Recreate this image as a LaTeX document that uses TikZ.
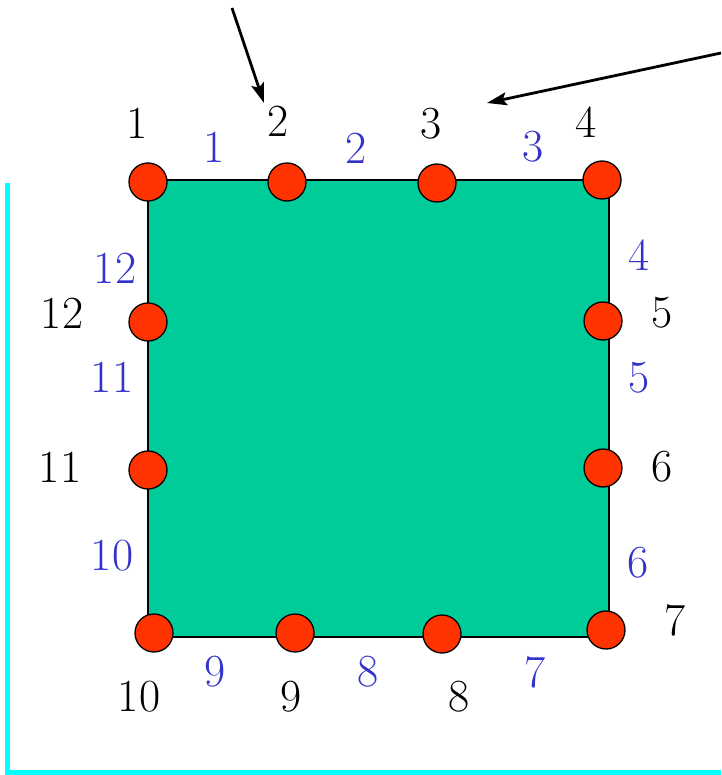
\documentclass[tikz,border=0pt]{standalone}
\usepackage{fontspec}
\usetikzlibrary{arrows.meta}
\definecolor{facegreen}{RGB}{0,204,153}
\definecolor{vtxred}{RGB}{255,51,0}
\definecolor{edgeblue}{RGB}{51,51,204}
\definecolor{frame}{RGB}{0,255,255}
\begin{document}
\begin{tikzpicture}[x=1pt,y=-1pt,
  vtx/.style={circle,draw=black,line width=1.3pt,fill=vtxred,minimum size=38pt,inner sep=0pt},
  num/.style={inner sep=0pt,font=\fontsize{46}{50}\selectfont},
  edgenum/.style={num,text=edgeblue},
  arr/.style={-{Stealth[length=20pt,width=13pt,inset=4pt]},line width=2.8pt}]
\useasboundingbox (0,0) rectangle (721,775);
% frame
\draw[frame,line width=5pt] (7.5,183) -- (7.5,772.5) -- (721,772.5);
% the face
\node[draw=black,line width=1.3pt,fill=facegreen,minimum width=461pt,minimum height=457pt,inner sep=0pt] (face) at (378.5,408.5) {};
% vertices
\node[vtx] (v1) at (148,182) {};
\node[vtx] (v2) at (287,182) {};
\node[vtx] (v3) at (437,183) {};
\node[vtx] (v4) at (602,180) {};
\node[vtx] (v5) at (603,321) {};
\node[vtx] (v6) at (603,468) {};
\node[vtx] (v7) at (606,630) {};
\node[vtx] (v8) at (442,634) {};
\node[vtx] (v9) at (295,633) {};
\node[vtx] (v10) at (154,633) {};
\node[vtx] (v11) at (148,470) {};
\node[vtx] (v12) at (148,322) {};
% vertex numbers
\node[num] (n1) at (137,123) {1};
\node[num] (n2) at (278,121) {2};
\node[num] (n3) at (431,124) {3};
\node[num] (n4) at (586,122) {4};
\node[num] (n5) at (662,313) {5};
\node[num] (n6) at (662,467) {6};
\node[num] (n7) at (675,620) {7};
\node[num] (n8) at (459,697) {8};
\node[num] (n9) at (291,697) {9};
\node[num] (n10) at (139,697) {10};
\node[num] (n11) at (60,467) {11};
\node[num] (n12) at (62,313) {12};
% edge numbers
\node[edgenum] (e1) at (214,147) {1};
\node[edgenum] (e2) at (356,148) {2};
\node[edgenum] (e3) at (533,147) {3};
\node[edgenum] (e4) at (639,255) {4};
\node[edgenum] (e5) at (639,378) {5};
\node[edgenum] (e6) at (638,563) {6};
\node[edgenum] (e7) at (535,672) {7};
\node[edgenum] (e8) at (368,672) {8};
\node[edgenum] (e9) at (215,672) {9};
\node[edgenum] (e10) at (112,556) {10};
\node[edgenum] (e11) at (112,377) {11};
\node[edgenum] (e12) at (115,268) {12};
% pointers
\coordinate (p1) at (232,8);
\coordinate (q1) at (264,103);
\coordinate (p2) at (721,53);
\coordinate (q2) at (487,103);
\draw[arr] (p1) -- (q1);
\draw[arr] (p2) -- (q2);
\end{tikzpicture}
\end{document}
